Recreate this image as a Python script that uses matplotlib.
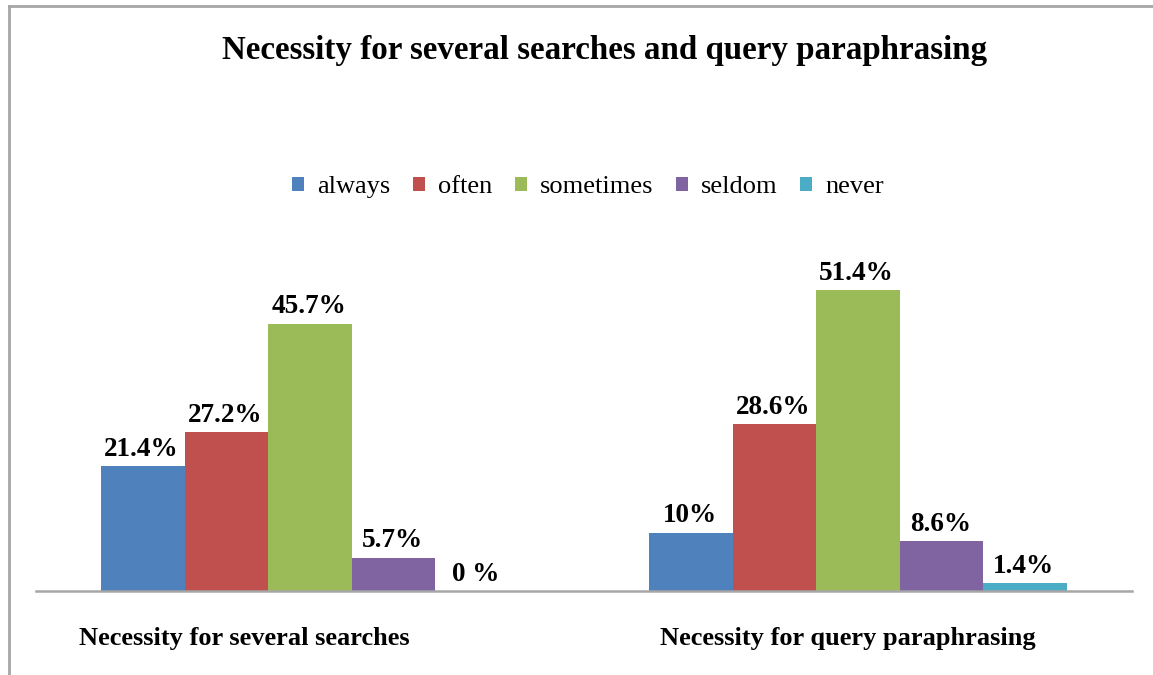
import matplotlib
matplotlib.use("Agg")
import matplotlib.pyplot as plt
from matplotlib.lines import Line2D
import numpy as np

# data
categories = ["Necessity for several searches", "Necessity for query paraphrasing"]
series = ["always", "often", "sometimes", "seldom", "never"]
values = {
    "always":    [21.4, 10.0],
    "often":     [27.2, 28.6],
    "sometimes": [45.7, 51.4],
    "seldom":    [5.7, 8.6],
    "never":     [0.0, 1.4],
}
labels = {
    "always":    ["21.4%", "10%"],
    "often":     ["27.2%", "28.6%"],
    "sometimes": ["45.7%", "51.4%"],
    "seldom":    ["5.7%", "8.6%"],
    "never":     ["0 %", "1.4%"],
}
colors = ["#4F81BD", "#C0504D", "#9BBB59", "#8064A2", "#4BACC6"]

plt.rcParams['font.family'] = ['Liberation Serif', 'DejaVu Serif']

W, H = 1153, 675
fig = plt.figure(figsize=(W / 100, H / 100), dpi=100)
ax = fig.add_axes([36 / W, (H - 591) / H, (1132 - 36) / W, (591 - 240) / H])

x = np.arange(len(categories))
width = 0.1524
for j, name in enumerate(series):
    pos = x + (j - 2) * width
    bars = ax.bar(pos, values[name], width, color=colors[j], label=name)
    for b, txt in zip(bars, labels[name]):
        ax.annotate(txt, (b.get_x() + b.get_width() / 2, b.get_height()),
                    xytext=(-1, 3), textcoords="offset points",
                    ha="center", va="bottom", fontsize=19.5, fontweight="bold")

ax.set_xlim(-0.5, 1.5)
ax.set_ylim(0, 60)
for s in ["top", "left", "right"]:
    ax.spines[s].set_visible(False)
ax.spines["bottom"].set_color("#A6A6A6")
ax.spines["bottom"].set_linewidth(1.8)
ax.set_xticks([])
ax.set_yticks([])

# category labels under the axis
offsets = [-47, -7]
for i, cat in enumerate(categories):
    ax.annotate(cat, (x[i], 0), xytext=(offsets[i], -34), textcoords="offset points",
                ha="center", va="center", fontsize=19, fontweight="bold")

fig.text(605 / W, 1 - 50 / H, "Necessity for several searches and query paraphrasing",
         ha="center", va="center", fontsize=23.8, fontweight="bold")

leg = fig.legend(loc="center", bbox_to_anchor=(588 / W, 1 - 187 / H), ncol=5,
                 frameon=False, fontsize=19, handlelength=0.45, handleheight=0.45,
                 handletextpad=0.5, columnspacing=0.85)

# chart border (left and top edges visible)
fig.add_artist(Line2D([9 / W, 9 / W], [0, 1 - 6 / H], color="#A6A6A6", lw=2))
fig.add_artist(Line2D([9 / W, 1], [1 - 6 / H, 1 - 6 / H], color="#A6A6A6", lw=2))

fig.savefig("out.png", dpi=100)
